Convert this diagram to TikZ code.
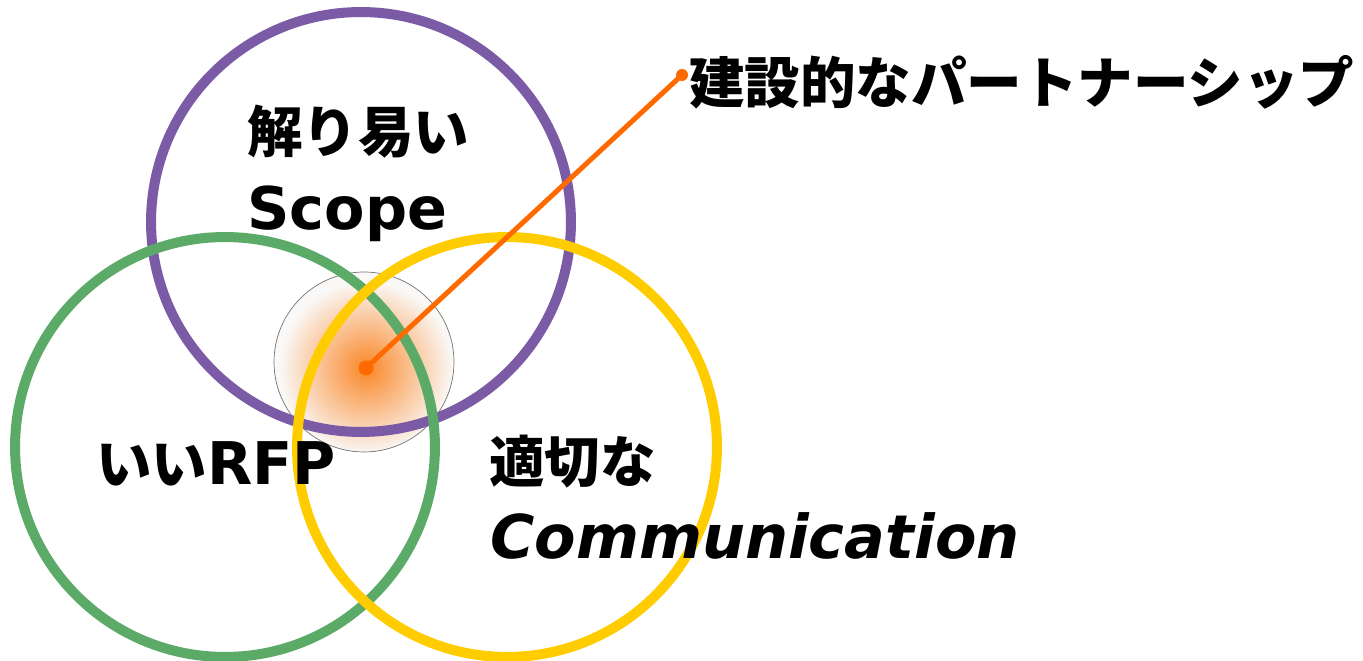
\documentclass[tikz,border=0pt]{standalone}
\usepackage{fontspec}
\setmainfont{DejaVu Sans}
\newfontfamily\jpfont{Noto Sans CJK JP}
\definecolor{scopecol}{RGB}{123,91,166}
\definecolor{rfpcol}{RGB}{92,170,104}
\definecolor{commcol}{RGB}{255,204,0}
\definecolor{linecol}{RGB}{255,106,0}
\definecolor{glowcol}{RGB}{250,135,40}
\definecolor{haze}{RGB}{250,249,248}
\tikzset{
	lbl/.style={inner sep=0pt, anchor=base west, font=\fontsize{33.5}{40}\selectfont\bfseries},
	jplbl/.style={lbl, font=\fontsize{31.6}{38}\selectfont\bfseries\jpfont},
	ring/.style={line width=0.2cm}
}
\begin{document}
\begin{tikzpicture}[x=0.02cm, y=-0.02cm]
			\useasboundingbox (0,0) rectangle (1363,661);
			% glow
			\coordinate (disk) at (364,362);
			\coordinate (glow) at (366,368);
			\fill[haze] (disk) circle (1.8cm);
			\begin{scope}
				\clip (disk) circle (1.8cm);
				\shade[inner color=glowcol, outer color=haze] (glow) circle (1.75cm);
			\end{scope}
			\draw[black!55, thin] (disk) circle (1.8cm);
			% circles
			\foreach \x/\y/\c in {361/222/scopecol, 225/447/rfpcol, 507/447/commcol}
			\draw[ring, \c] (\x,\y) circle (4.2cm);
			% pointer
			\coordinate (tip) at (682,75);
			\draw[linecol, line width=0.1cm] (glow) -- (tip);
			\fill[linecol] (glow) circle (0.15cm);
			\fill[linecol] (tip) circle (0.12cm);
			% labels
			\node[jplbl] (title) at (689,104) {建設的なパートナーシップ};
			\node[jplbl] (scopejp) at (247,153) {解り易い};
			\node[lbl] (scopeen) at (247,230) {Scope};
			\node[lbl] (rfp) at (96,485) {{\jpfont\fontsize{31.6}{38}\selectfont いい}RFP};
			\node[jplbl] (commjp) at (489,483) {適切な};
			\node[lbl, font=\fontsize{34.4}{40}\selectfont\bfseries\itshape] (commen) at (490,559) {Communication};
\end{tikzpicture}
\end{document}
